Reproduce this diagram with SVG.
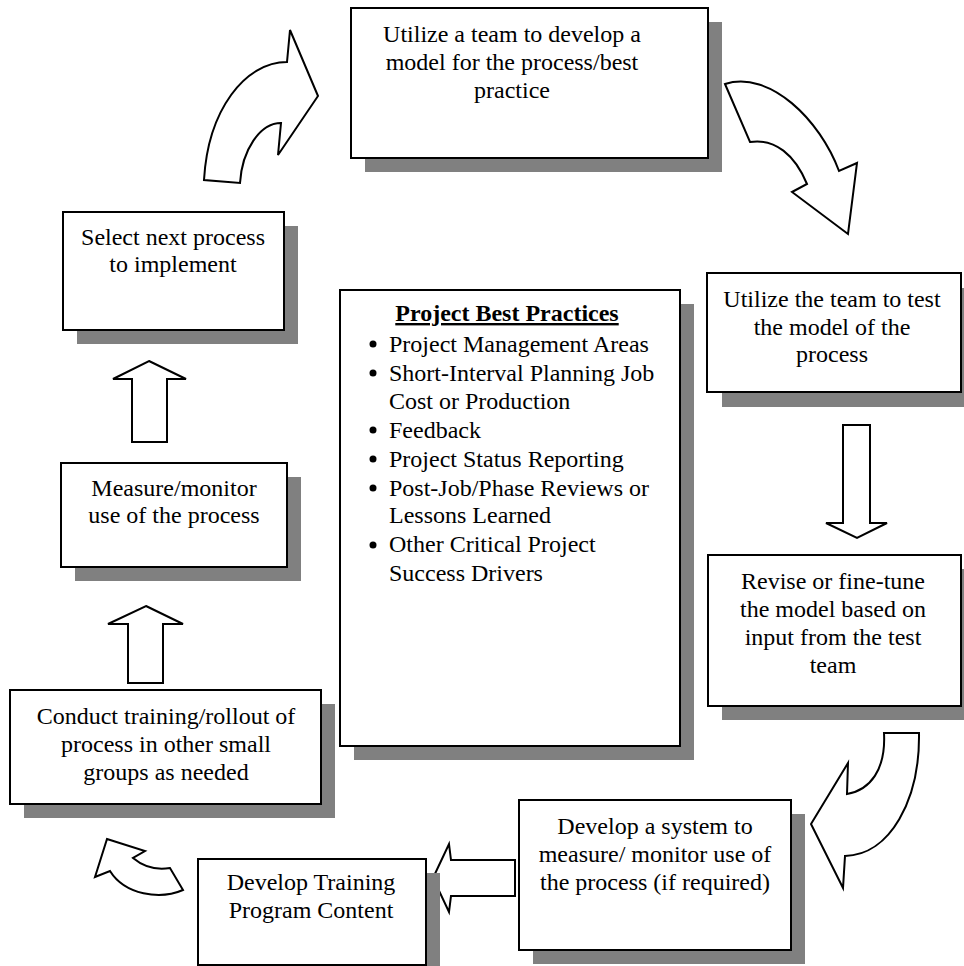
<svg xmlns="http://www.w3.org/2000/svg" width="964" height="966" viewBox="0 0 964 966">
<style>
.shadow { fill: #808080; }
.box { fill: #ffffff; stroke: #000000; stroke-width: 2; }
.arrow { fill: #ffffff; stroke: #000000; stroke-width: 2; stroke-linejoin: miter; }
text { font-family: "Liberation Serif", "Times New Roman", serif; font-size: 24px; fill: #000000; text-anchor: middle; }
.bl { text-anchor: start; }
.title { font-weight: bold; text-decoration: underline; }
</style>
<rect width="964" height="966" fill="#ffffff"/>

<g id="connectors">
  <path class="arrow" d="M290,30 L318,96 L278,155 L281,123 C 260,123 242,150 240,183 L204,180 C 208,110 245,62 287,62 Z"/>
  <path class="arrow" d="M725,84 C 770,70 820,120 839,171 L857,163 L848,234 L792,192 L807,184 C 795,155 775,138 750,142 Z"/>
  <path class="arrow" d="M843,425 L870,425 L870,523 L887,523 L857,538 L826,523 L843,523 Z"/>
  <path class="arrow" d="M884,733 L919,733 C 920,800 890,855 845,856 L843,888 L811,824 L848,763 L847,794 C 870,790 886,770 884,733 Z"/>
  <path class="arrow" d="M433,878 L449,844 L451,860 L515,860 L515,896 L451,896 L449,912 Z"/>
  <path class="arrow" d="M107,839 L145,851 L133,858 C 145,868 158,870 170,868 L183,890 C 160,900 125,895 110,871 L95,877 Z"/>
  <path class="arrow" d="M146,606 L183,624 L163,624 L163,683 L128,683 L128,624 L108,624 Z"/>
  <path class="arrow" d="M149,361 L186,379 L167,379 L167,442 L132,442 L132,379 L113,379 Z"/>
</g>

<g id="node-model">
  <rect class="shadow" x="365" y="22" width="357" height="150"/>
  <rect class="box" x="351" y="8" width="357" height="150"/>
  <text x="512" y="42">Utilize a team to develop a</text>
  <text x="512" y="70">model for the process/best</text>
  <text x="512" y="98">practice</text>
</g>

<g id="node-test">
  <rect class="shadow" x="722" y="288" width="254" height="119"/>
  <rect class="box" x="707" y="273" width="254" height="119"/>
  <text x="832" y="307">Utilize the team to test</text>
  <text x="832" y="335">the model of the</text>
  <text x="832" y="362">process</text>
</g>

<g id="node-revise">
  <rect class="shadow" x="722" y="569" width="254" height="151"/>
  <rect class="box" x="708" y="555" width="253" height="151"/>
  <text x="833" y="589">Revise or fine-tune</text>
  <text x="833" y="617">the model based on</text>
  <text x="833" y="645">input from the test</text>
  <text x="833" y="673">team</text>
</g>

<g id="node-system">
  <rect class="shadow" x="533" y="814" width="272" height="150"/>
  <rect class="box" x="519" y="800" width="272" height="150"/>
  <text x="655" y="834">Develop a system to</text>
  <text x="655" y="862">measure/ monitor use of</text>
  <text x="655" y="890">the process (if required)</text>
</g>

<g id="node-training-content">
  <rect class="shadow" x="212" y="873" width="228" height="106"/>
  <rect class="box" x="198" y="859" width="228" height="106"/>
  <text x="311" y="890">Develop Training</text>
  <text x="311" y="918">Program Content</text>
</g>

<g id="node-rollout">
  <rect class="shadow" x="24" y="704" width="311" height="114"/>
  <rect class="box" x="10" y="690" width="311" height="114"/>
  <text x="166" y="724">Conduct training/rollout of</text>
  <text x="166" y="752">process in other small</text>
  <text x="166" y="780">groups as needed</text>
</g>

<g id="node-measure">
  <rect class="shadow" x="75" y="477" width="226" height="104"/>
  <rect class="box" x="61" y="463" width="226" height="104"/>
  <text x="174" y="496">Measure/monitor</text>
  <text x="174" y="523">use of the process</text>
</g>

<g id="node-select">
  <rect class="shadow" x="77" y="226" width="221" height="118"/>
  <rect class="box" x="63" y="212" width="221" height="118"/>
  <text x="173" y="245">Select next process</text>
  <text x="173" y="272">to implement</text>
</g>

<g id="node-best-practices">
  <rect class="shadow" x="354" y="304" width="340" height="456"/>
  <rect class="box" x="340" y="290" width="340" height="456"/>
  <text class="title" x="507" y="321">Project Best Practices</text>
  <g id="bullets">
    <circle cx="373" cy="344" r="3.5"/>
    <circle cx="373" cy="373" r="3.5"/>
    <circle cx="373" cy="430" r="3.5"/>
    <circle cx="373" cy="459" r="3.5"/>
    <circle cx="373" cy="488" r="3.5"/>
    <circle cx="373" cy="545" r="3.5"/>
  </g>
  <text class="bl" x="389" y="352">Project Management Areas</text>
  <text class="bl" x="389" y="381">Short-Interval Planning Job</text>
  <text class="bl" x="389" y="409">Cost or Production</text>
  <text class="bl" x="389" y="438">Feedback</text>
  <text class="bl" x="389" y="467">Project Status Reporting</text>
  <text class="bl" x="389" y="496">Post-Job/Phase Reviews or</text>
  <text class="bl" x="389" y="523">Lessons Learned</text>
  <text class="bl" x="389" y="552">Other Critical Project</text>
  <text class="bl" x="389" y="581">Success Drivers</text>
</g>
</svg>
